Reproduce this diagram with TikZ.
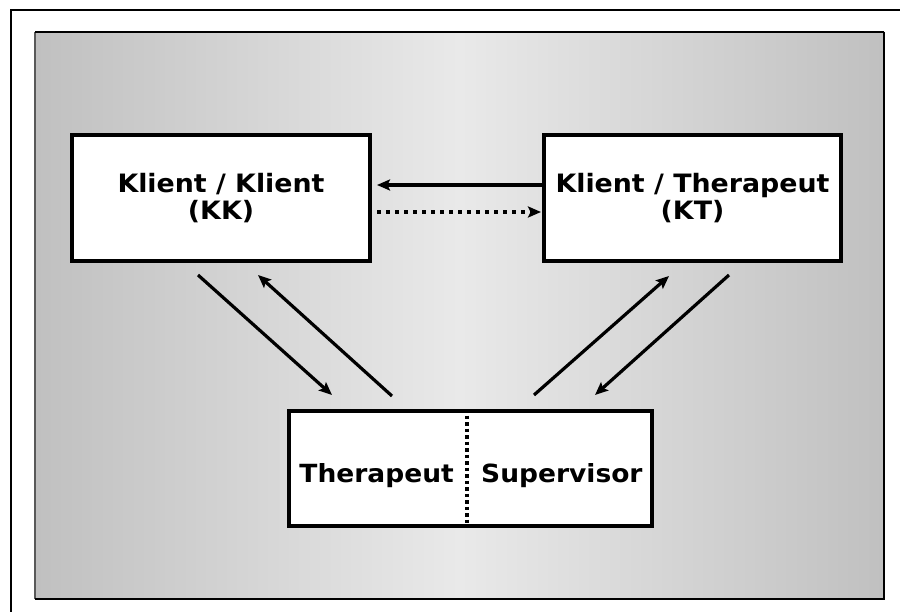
\documentclass[tikz,border=0pt]{standalone}
\usepackage{fontspec}
\setmainfont{DejaVu Sans}[FakeStretch=1.06]
\usetikzlibrary{arrows.meta}
\definecolor{gedge}{RGB}{192,192,192}
\definecolor{gmid}{RGB}{233,233,233}
\begin{document}
\begin{tikzpicture}[x=1pt,y=-1pt,
  box/.style={draw=black, line width=4pt, fill=white, inner sep=0pt, align=center,
    font=\fontsize{25.3}{27}\selectfont\bfseries},
  lbl/.style={inner sep=0pt, font=\fontsize{25}{27}\selectfont\bfseries},
  arr/.style={line width=3.2pt, -{Stealth[length=13pt,width=11pt,inset=2.5pt]}},
  dotarr/.style={arr, dash pattern=on 4pt off 5pt},
  divline/.style={line width=3.4pt, dash pattern=on 3.5pt off 3pt},
]
\useasboundingbox (0,0) rectangle (900,612);
\fill[white] (0,0) rectangle (900,612);
\begin{scope}
\clip (0,0) rectangle (900,612);
\draw[line width=2.6pt] (11,630) -- (11,10) -- (920,10);
\end{scope}
\shade[left color=gedge,right color=gedge,middle color=gmid] (35,32) rectangle (884,599);
\draw[black!65, line width=1.5pt] (35,599) -- (35,32);
\draw[black, line width=1.5pt] (35,32) -- (884,32);
\draw[black, line width=2pt] (884,32) -- (884,599) -- (35,599);

\node[box, minimum width=298pt, minimum height=126pt] (kk) at (221,198) {Klient / Klient\\(KK)};
\node[box, minimum width=297pt, minimum height=126pt] (kt) at (692.5,198) {Klient / Therapeut\\(KT)};
\node[box, minimum width=363pt, minimum height=115pt] (sup) at (470.5,468.5) {};

\coordinate (div) at (467,0);
\draw[divline] (div |- sup.north) -- (div |- sup.south);
\node[lbl, anchor=base east] (ther) at (454,482) {Therapeut};
\node[lbl, anchor=base west] (supv) at (481,482) {Supervisor};

\coordinate (h1) at (0,185);
\coordinate (h2) at (0,212);
\draw[arr, shorten >=5pt] (kt.west |- h1) -- (kk.east |- h1);
\draw[dotarr, shorten <=5pt, shorten >=1pt] (kk.east |- h2) -- (kt.west |- h2);

\coordinate (a1s) at (198,275);
\coordinate (a1e) at (332,395);
\coordinate (a2s) at (392,396);
\coordinate (a2e) at (258,275);
\coordinate (a3s) at (534,395);
\coordinate (a3e) at (669,276);
\coordinate (a4s) at (729,275);
\coordinate (a4e) at (595,395);
\draw[arr] (a1s) -- (a1e);
\draw[arr] (a2s) -- (a2e);
\draw[arr] (a3s) -- (a3e);
\draw[arr] (a4s) -- (a4e);
\end{tikzpicture}
\end{document}
